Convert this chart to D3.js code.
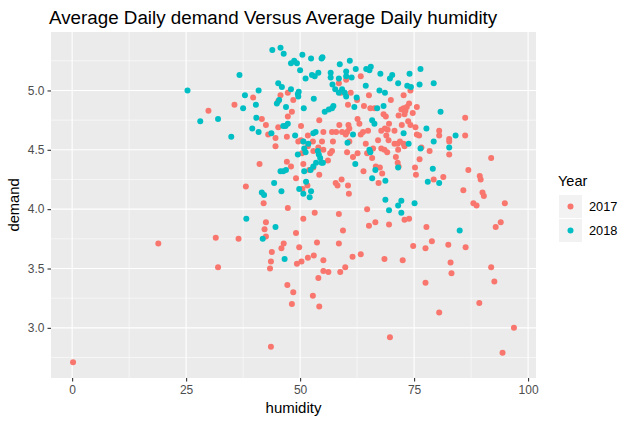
<!DOCTYPE html>
<html>
<head>
<meta charset="utf-8">
<script src="https://cdn.jsdelivr.net/npm/d3@7"></script>
<style>
  body { margin: 0; background: #fff; }
  text { font-family: "Liberation Sans", Arial, sans-serif; }
</style>
</head>
<body>
<svg id="chart" width="634" height="427"></svg>
<script>
// humidity / demand readings, year 2017
var hum2017 = [0.2, 18.9, 29.9, 31.5, 32.0, 35.6, 36.5, 38.1, 39.7, 41.1, 41.6, 42.0, 42.2, 42.5, 42.5, 42.5, 43.0, 43.4, 43.6, 43.6,
  43.8, 44.6, 44.6, 45.2, 45.2, 45.7, 45.9, 46.4, 47.1, 47.1, 47.3, 47.3, 47.3, 47.2, 48.0, 48.2, 48.2, 48.5, 48.5, 49.1,
  49.1, 49.3, 50.3, 49.6, 49.8, 50.2, 50.2, 50.7, 51.7, 52.8, 54.2, 54.8, 54.0, 55.1, 57.0, 57.9, 57.2, 58.5, 60.1, 59.0,
  60.5, 58.6, 59.2, 60.6, 60.3, 60.8, 63.3, 61.1, 62.5, 65.1, 69.9, 72.7, 74.2, 64.0, 65.4, 66.3, 68.3, 68.8, 62.6, 63.0,
  60.8, 60.0, 63.3, 63.8, 64.9, 67.1, 68.9, 69.4, 69.2, 68.6, 69.5, 70.7, 71.6, 72.2, 72.7, 73.1, 73.4, 73.9, 75.6, 74.7,
  72.9, 73.7, 74.2, 72.3, 75.3, 75.6, 76.1, 80.5, 80.5, 82.7, 82.7, 70.7, 71.4, 71.9, 72.7, 72.9, 76.6, 64.4, 67.8, 86.2,
  86.2, 91.9, 82.7, 78.4, 86.9, 89.4, 89.6, 81.4, 79.3, 85.8, 90.0, 90.3, 88.0, 88.7, 94.9, 94.0, 92.9, 86.3, 82.5, 78.9,
  77.5, 74.8, 77.7, 83.0, 83.2, 77.5, 91.9, 92.6, 89.3, 80.5, 96.9, 94.4, 69.7, 72.5, 68.5, 72.9, 73.9, 65.1, 66.5, 69.5,
  64.7, 63.3, 61.5, 58.5, 59.4, 58.5, 59.9, 58.8, 56.2, 55.1, 54.0, 55.1, 53.0, 51.7, 53.7, 50.7, 53.2, 52.8, 54.2, 51.7,
  50.4, 52.9, 55.1, 56.6, 57.0, 56.1, 50.7, 52.0, 52.9, 54.2, 50.5, 51.6, 57.8, 58.2, 59.1, 60.7, 60.3, 61.6, 62.6, 64.7,
  66.0, 65.8, 67.8, 68.5, 69.1, 71.5, 71.0, 71.4, 71.6, 66.6, 67.5, 68.0, 63.9, 67.2, 60.5, 76.2, 75.2, 75.4];
var dem2017 = [2.71, 3.71, 4.83, 3.76, 3.51, 4.88, 3.75, 4.19, 4.94, 4.38, 4.76, 4.05, 3.83, 3.89, 3.77, 4.71, 4.63, 3.50, 3.56, 2.84,
  3.64, 4.60, 4.53, 4.91, 4.69, 4.96, 3.67, 3.71, 4.61, 4.40, 4.98, 4.78, 4.01, 3.36, 4.36, 4.82, 3.20, 4.92, 3.30, 4.26,
  3.80, 3.54, 3.56, 4.57, 3.68, 4.70, 4.58, 4.57, 4.62, 4.57, 4.75, 4.57, 4.52, 4.65, 4.65, 4.65, 4.57, 5.06, 5.09, 4.98,
  4.88, 4.71, 4.65, 4.71, 4.65, 4.57, 5.12, 4.98, 4.92, 4.96, 4.92, 4.96, 5.00, 4.87, 4.85, 4.85, 4.80, 4.78, 4.76, 4.72,
  4.68, 4.63, 4.63, 4.65, 4.66, 4.58, 4.62, 4.58, 4.67, 4.68, 4.72, 4.66, 4.79, 4.84, 4.85, 4.83, 4.86, 4.89, 4.86, 4.81,
  4.80, 4.74, 4.71, 4.71, 4.69, 4.63, 4.62, 4.66, 4.62, 4.59, 4.57, 4.55, 4.55, 4.57, 4.55, 4.53, 4.52, 4.55, 4.66, 4.77,
  4.62, 4.43, 4.46, 4.49, 4.33, 4.28, 4.25, 4.27, 4.25, 4.16, 4.14, 4.11, 4.05, 4.03, 4.05, 3.89, 3.85, 3.68, 3.70, 3.73,
  3.67, 3.69, 3.85, 3.55, 3.46, 3.38, 3.51, 3.39, 3.21, 3.13, 3.00, 2.79, 2.92, 3.57, 3.58, 3.91, 3.92, 3.86, 3.89, 3.87,
  4.00, 3.62, 3.60, 3.96, 3.82, 3.71, 3.51, 3.47, 3.47, 3.48, 3.42, 3.57, 3.61, 3.59, 3.72, 3.92, 3.97, 3.27, 3.18, 4.53,
  4.47, 4.49, 4.50, 4.47, 4.49, 4.41, 4.38, 4.33, 4.35, 4.29, 4.17, 4.20, 4.22, 4.20, 4.25, 4.13, 4.48, 4.44, 4.47, 4.47,
  4.51, 4.43, 4.51, 4.50, 4.48, 4.50, 4.44, 4.39, 4.36, 4.36, 4.35, 4.30, 4.32, 4.22, 4.20, 4.42, 4.35, 4.29];

// humidity / demand readings, year 2018
var hum2018 = [25.3, 28.1, 32.0, 34.9, 36.7, 37.9, 37.5, 38.2, 39.5, 40.3, 40.4, 40.9, 40.9, 41.6, 42.1, 41.8, 43.7, 43.9, 44.3, 44.6,
  44.9, 45.2, 45.7, 45.7, 46.0, 45.9, 46.3, 46.3, 46.4, 46.6, 46.8, 46.9, 46.9, 47.3, 48.0, 48.0, 48.7, 48.9, 49.3, 49.5,
  49.7, 49.5, 49.8, 50.0, 50.5, 51.2, 52.4, 52.6, 53.2, 54.0, 54.7, 54.9, 56.7, 56.7, 58.7, 58.5, 60.1, 60.9, 57.1, 57.7,
  58.5, 49.6, 45.4, 50.8, 53.0, 55.4, 56.3, 57.0, 57.3, 52.9, 53.4, 50.7, 51.8, 59.2, 59.8, 60.4, 60.1, 62.2, 61.3, 64.5,
  65.5, 65.2, 67.6, 70.2, 69.7, 74.0, 76.4, 64.4, 71.5, 73.5, 74.3, 76.2, 79.3, 67.4, 68.6, 60.1, 62.4, 61.9, 66.9, 68.3,
  80.8, 65.8, 66.3, 72.7, 77.7, 61.6, 79.3, 73.8, 84.1, 82.7, 50.9, 51.2, 53.9, 54.1, 54.4, 54.7, 55.0, 53.5, 52.9, 52.3,
  50.9, 51.3, 50.7, 52.4, 52.1, 65.2, 65.4, 62.1, 76.4, 66.5, 65.8, 68.7, 71.5, 79.1, 78.0, 80.5, 68.7, 72.2, 69.5, 71.5,
  72.2, 75.1, 85.0];
var dem2018 = [5.00, 4.74, 4.76, 4.61, 5.13, 4.96, 4.85, 3.92, 4.68, 4.88, 4.77, 5.00, 4.65, 4.14, 4.12, 3.75, 4.64, 5.34, 4.22, 3.85,
  4.89, 5.06, 5.36, 4.32, 5.03, 4.15, 4.70, 4.32, 5.31, 3.58, 4.70, 4.86, 4.33, 4.72, 5.23, 5.01, 5.25, 4.62, 5.23, 4.97,
  4.99, 4.46, 4.17, 5.17, 5.30, 5.10, 5.27, 5.13, 5.12, 5.15, 5.27, 5.28, 5.15, 5.11, 5.22, 5.10, 5.12, 5.25, 5.05, 5.01,
  4.98, 4.95, 4.92, 4.85, 4.93, 4.82, 4.84, 4.85, 4.87, 4.64, 4.65, 4.57, 4.55, 5.01, 4.98, 4.56, 5.16, 5.18, 5.11, 5.18,
  5.20, 5.17, 5.14, 5.13, 5.10, 5.14, 5.18, 5.04, 5.06, 5.04, 5.03, 5.05, 5.06, 5.00, 4.98, 4.95, 4.94, 4.86, 4.85, 4.87,
  4.82, 4.75, 4.72, 4.64, 4.68, 4.63, 4.57, 4.55, 4.62, 4.52, 4.51, 4.48, 4.49, 4.46, 4.43, 4.39, 4.39, 4.39, 4.36, 4.33,
  4.32, 4.23, 4.13, 4.15, 4.10, 4.50, 4.48, 4.38, 4.51, 4.33, 4.26, 4.24, 4.35, 4.34, 4.23, 4.22, 4.08, 4.07, 3.99, 4.03,
  3.97, 4.05, 3.82];

var years = ["2017", "2018"];
var colors = ["#F8766D", "#00BFC4"];
var xTicks = [0, 25, 50, 75, 100];
var yTicks = [3.0, 3.5, 4.0, 4.5, 5.0];

function run() {
    var svg = d3.select("#chart");
    var left = 51, right = 536, top = 32, bottom = 378;

    var points = [];
    hum2017.forEach(function (h, i) { points.push({ h: h, d: dem2017[i], year: "2017" }); });
    hum2018.forEach(function (h, i) { points.push({ h: h, d: dem2018[i], year: "2018" }); });

    // ggplot style 5% expansion
    var xe = d3.extent(points, function (p) { return p.h; });
    var ye = d3.extent(points, function (p) { return p.d; });
    var xp = (xe[1] - xe[0]) * 0.05, yp = (ye[1] - ye[0]) * 0.05;
    var x = d3.scaleLinear().domain([xe[0] - xp, xe[1] + xp]).range([left, right]);
    var y = d3.scaleLinear().domain([ye[0] - yp, ye[1] + yp]).range([bottom, top]);
    var color = d3.scaleOrdinal().domain(years).range(colors);

    svg.append("rect")
        .attr("x", left).attr("y", top)
        .attr("width", right - left).attr("height", bottom - top)
        .style("fill", "#EBEBEB");

    // minor grid halfway between majors
    var xMinor = xTicks.slice(0, -1).map(function (t, i) { return (t + xTicks[i + 1]) / 2; });
    var yMinor = [yTicks[0] - 0.25].concat(yTicks.map(function (t) { return t + 0.25; }));

    var grid = svg.append("g");
    xMinor.forEach(function (t) {
        grid.append("line").attr("x1", x(t)).attr("x2", x(t)).attr("y1", top).attr("y2", bottom)
            .style("stroke", "#fff").style("stroke-width", 0.55);
    });
    yMinor.forEach(function (t) {
        if (y(t) < top || y(t) > bottom) return;
        grid.append("line").attr("x1", left).attr("x2", right).attr("y1", y(t)).attr("y2", y(t))
            .style("stroke", "#fff").style("stroke-width", 0.55);
    });
    xTicks.forEach(function (t) {
        grid.append("line").attr("x1", x(t)).attr("x2", x(t)).attr("y1", top).attr("y2", bottom)
            .style("stroke", "#fff").style("stroke-width", 1.1);
    });
    yTicks.forEach(function (t) {
        grid.append("line").attr("x1", left).attr("x2", right).attr("y1", y(t)).attr("y2", y(t))
            .style("stroke", "#fff").style("stroke-width", 1.1);
    });

    svg.append("g").selectAll("circle")
        .data(points)
        .enter().append("circle")
        .attr("cx", function (p) { return x(p.h); })
        .attr("cy", function (p) { return y(p.d); })
        .attr("r", 3)
        .style("fill", function (p) { return color(p.year); });

    // axes
    var xAxis = svg.append("g")
        .attr("transform", "translate(0," + bottom + ")")
        .call(d3.axisBottom(x).tickValues(xTicks).tickSize(3.5).tickPadding(4).tickFormat(d3.format("d")));
    var yAxis = svg.append("g")
        .attr("transform", "translate(" + left + ",0)")
        .call(d3.axisLeft(y).tickValues(yTicks).tickSize(3.5).tickPadding(3).tickFormat(d3.format(".1f")));
    [xAxis, yAxis].forEach(function (a) {
        a.select(".domain").remove();
        a.selectAll(".tick line").style("stroke", "#333").style("stroke-width", 1.1);
        a.selectAll(".tick text").style("fill", "#4D4D4D").style("font-size", "12px")
            .style("font-family", "'Liberation Sans', Arial, sans-serif");
    });

    svg.append("text")
        .attr("x", (left + right) / 2)
        .attr("y", 413)
        .style("text-anchor", "middle")
        .style("font-size", "15px")
        .text("humidity");

    svg.append("text")
        .attr("transform", "translate(19," + (top + bottom) / 2 + ") rotate(-90)")
        .style("text-anchor", "middle")
        .style("font-size", "14.7px")
        .text("demand");

    svg.append("text")
        .attr("x", left - 2)
        .attr("y", 24)
        .style("font-size", "18.8px")
        .text("Average Daily demand Versus Average Daily humidity");

    // legend
    var lg = svg.append("g").attr("transform", "translate(558,0)");
    lg.append("text").attr("x", 0).attr("y", 186).style("font-size", "14.5px").text("Year");
    years.forEach(function (yr, i) {
        var ky = 195 + i * 24;
        lg.append("rect").attr("x", 1).attr("y", ky).attr("width", 23).attr("height", 23)
            .style("fill", "#F2F2F2");
        lg.append("circle").attr("cx", 12.5).attr("cy", ky + 11.5).attr("r", 3)
            .style("fill", color(yr));
        lg.append("text").attr("x", 31).attr("y", ky + 16).style("font-size", "12.8px").text(yr);
    });
}

run();
</script>
</body>
</html>
